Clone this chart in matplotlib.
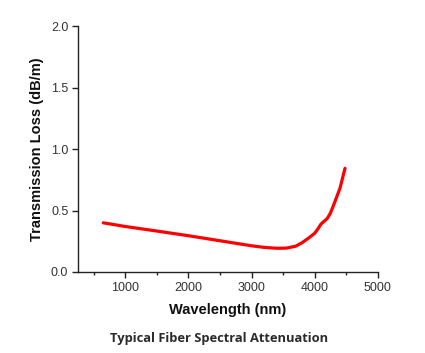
import matplotlib
matplotlib.use("Agg")
import matplotlib.pyplot as plt
from matplotlib.ticker import MultipleLocator

wavelength = [650, 1000, 1500, 2000, 2500, 3000, 3200, 3400, 3550, 3700, 3800, 3900, 4000, 4050, 4100, 4200, 4250, 4300, 4400, 4480]
loss = [0.40, 0.37, 0.333, 0.295, 0.254, 0.213, 0.200, 0.193, 0.194, 0.210, 0.238, 0.275, 0.315, 0.350, 0.390, 0.436, 0.480, 0.545, 0.680, 0.843]

x_ticks = [1000, 2000, 3000, 4000, 5000]
y_ticks = [0.0, 0.5, 1.0, 1.5, 2.0]

plt.rcParams["font.family"] = ["Liberation Sans", "DejaVu Sans"]

fig = plt.figure(figsize=(4.25, 3.53), dpi=100)
ax = fig.add_axes([0.1835, 0.2295, 0.7055, 0.6965])
ax.plot(wavelength, loss, color="#ff0000", lw=2.3, solid_capstyle="round")
ax.set_xlim(250, 5000)
ax.set_ylim(0, 2.0)
ax.set_xticks(x_ticks)
ax.set_yticks(y_ticks)
ax.set_yticklabels([f"{v:.1f}" for v in y_ticks])
ax.xaxis.set_minor_locator(MultipleLocator(500))
for s in ["top", "right"]:
    ax.spines[s].set_visible(False)
for s in ["left", "bottom"]:
    ax.spines[s].set_linewidth(1.0)
    ax.spines[s].set_color("#222222")
ax.tick_params(axis="both", which="major", direction="out", length=4, width=1, labelsize=9, colors="#222222", labelcolor="#333333", pad=3)
ax.tick_params(axis="x", which="minor", direction="out", length=2.5, width=1, colors="#222222")
ax.set_xlabel("Wavelength (nm)", fontsize=10.5, fontweight="bold", labelpad=7, color="#111111")
ax.set_ylabel("Transmission Loss (dB/m)", fontsize=10.5, fontweight="bold", labelpad=5, color="#111111")
fig.text(0.515, 0.042, "Typical Fiber Spectral Attenuation", ha="center", va="center",
         fontsize=9.3, fontweight="bold", family="Open Sans", color="#2a2a2a")
fig.savefig("out.png", dpi=100)
